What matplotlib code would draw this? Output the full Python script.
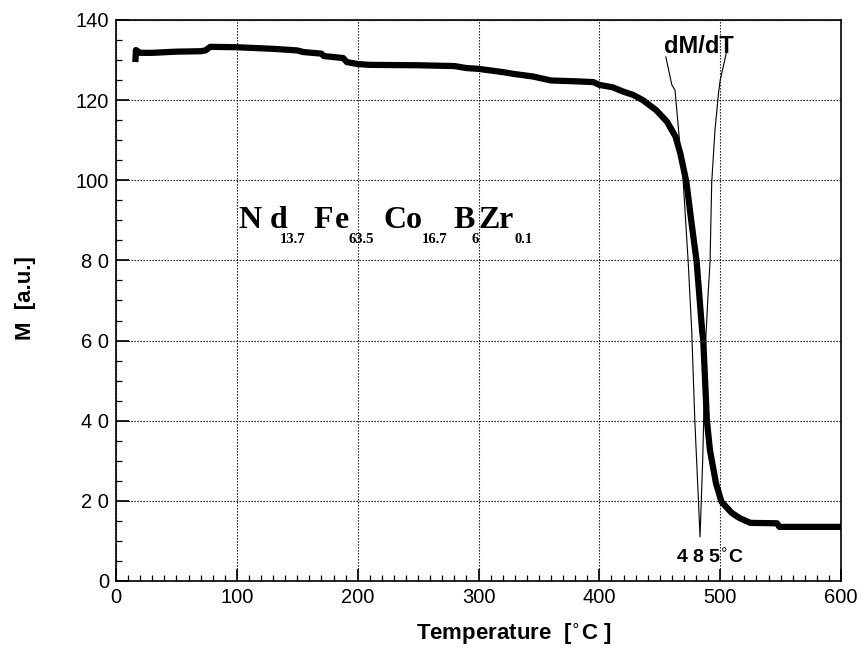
import matplotlib
matplotlib.use('Agg')
import matplotlib.pyplot as plt
from matplotlib.ticker import MultipleLocator

# magnetisation vs temperature
temp_m = [16, 16.5, 20, 30, 50, 70, 74, 78, 100, 130, 150, 155, 170, 172, 188, 191,
          200, 210, 250, 280, 290, 300, 320, 330, 345, 360, 380, 395, 400, 411, 420,
          428, 436, 447, 456, 463, 467, 472, 476, 480.5, 485, 486, 489, 491.5, 496.5,
          501, 509.5, 516, 525, 547, 549, 600]
mag = [129.5, 132.5, 131.8, 131.8, 132.1, 132.2, 132.4, 133.3, 133.2, 132.8, 132.4,
       132.0, 131.6, 131.0, 130.5, 129.5, 129.0, 128.8, 128.7, 128.5, 128.0, 127.8,
       127.0, 126.5, 125.9, 124.9, 124.7, 124.5, 123.8, 123.2, 122.1, 121.3, 120.0,
       117.5, 114.6, 110.9, 106.7, 99.6, 90.0, 79.7, 62.6, 60.0, 40.0, 32.7, 24.4,
       19.8, 17.0, 15.7, 14.5, 14.4, 13.5, 13.5]

# dM/dT curve (arbitrary scale, drawn on same axes)
temp_d = [455, 460, 462.6, 469.4, 473.5, 476.4, 479, 482, 483.3, 485.5, 488, 489.7,
          491.6, 493, 495.7, 498.6, 500, 505]
dmdt = [130.8, 123.8, 122.5, 99.6, 79.7, 62.6, 40, 20, 11, 30, 60, 70,
        79.7, 99.6, 112.6, 121.7, 125, 131.7]

# formula pieces: (text, x, subscript?)
formula = [('N', 101, False), ('d', 127.5, False), ('13.7', 135.5, True),
           ('F', 163, False), ('e', 181, False), ('63.5', 192, True),
           ('C', 221, False), ('o', 239.5, False), ('16.7', 253, True),
           ('B', 279, False), ('6', 294.5, True), ('Z', 300, False),
           ('r', 316.5, False), ('0.1', 330, True)]

ytick_labels = ['0', '2 0', '4 0', '6 0', '8 0', '100', '120', '140']

plt.rcParams['font.family'] = ['Liberation Sans', 'DejaVu Sans']

fig = plt.figure(figsize=(8.65, 6.53), dpi=100)
ax = fig.add_axes([0.1341, 0.1103, 0.8382, 0.8591])

ax.plot(temp_m, mag, color='black', lw=4.5, solid_capstyle='butt', zorder=3)
ax.plot(temp_d, dmdt, color='black', lw=0.8, zorder=2)

ax.set_xlim(0, 600)
ax.set_ylim(0, 140)
ax.xaxis.set_major_locator(MultipleLocator(100))
ax.xaxis.set_minor_locator(MultipleLocator(10))
ax.yaxis.set_minor_locator(MultipleLocator(5))
ax.set_yticks(range(0, 141, 20))
ax.set_yticklabels(ytick_labels)
ax.tick_params(which='major', direction='in', length=9, width=1.2, labelsize=14.5, pad=5)
ax.tick_params(which='minor', direction='in', length=4.5, width=0.9)
ax.grid(True, which='major', ls=(0, (1.2, 1.5)), color='black', lw=0.8)
for s in ax.spines.values():
    s.set_linewidth(1.2)

ax.set_xlabel('Temperature  [$^{\\circ}$C ]', fontsize=16, fontweight='bold')
ax.xaxis.set_label_coords(0.548, -0.071)
ax.set_ylabel('M  [a.u.]', fontsize=16, fontweight='bold')
ax.yaxis.set_label_coords(-0.11, 0.505)

for txt, x, sub in formula:
    if sub:
        ax.text(x, 84.4, txt, fontsize=10.5, fontweight='bold', family='Liberation Serif',
                ha='left', va='baseline')
    else:
        ax.text(x, 88.1, txt, fontsize=23, fontweight='bold', family='Liberation Serif',
                ha='left', va='baseline')

ax.text(482, 133.3, 'dM/dT', fontsize=17, fontweight='bold', ha='center', va='center')
ax.text(491.5, 5.7, '4 8 5$^{\\circ}$C', fontsize=14, fontweight='bold', ha='center', va='center')

fig.savefig('out.png', dpi=100)
